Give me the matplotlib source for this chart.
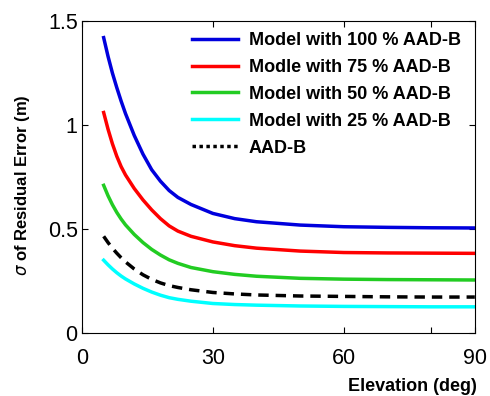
import numpy as np
from matplotlib import pyplot as plt
from matplotlib.lines import Line2D

plt.rcParams['font.family'] = ['Liberation Sans', 'DejaVu Sans']

# elevation angle (deg) and sigma of residual error (m)
elev = [5, 6, 7, 8, 9, 10, 12, 14, 16, 18, 20, 22, 25, 30, 35, 40, 50, 60, 70, 80, 90]
m100 = [1.42, 1.33, 1.25, 1.18, 1.115, 1.055, 0.95, 0.86, 0.785, 0.73, 0.685, 0.652, 0.618, 0.575, 0.55, 0.535, 0.519, 0.511, 0.508, 0.506, 0.505]
m75 = [1.06, 0.98, 0.91, 0.85, 0.80, 0.76, 0.695, 0.64, 0.592, 0.55, 0.515, 0.49, 0.465, 0.438, 0.42, 0.408, 0.394, 0.387, 0.385, 0.384, 0.383]
m50 = [0.71, 0.66, 0.617, 0.58, 0.548, 0.52, 0.474, 0.435, 0.402, 0.375, 0.352, 0.335, 0.315, 0.295, 0.282, 0.273, 0.263, 0.259, 0.257, 0.256, 0.255]
m25 = [0.35, 0.328, 0.308, 0.29, 0.274, 0.26, 0.236, 0.215, 0.197, 0.182, 0.17, 0.162, 0.153, 0.142, 0.137, 0.134, 0.13, 0.128, 0.127, 0.126, 0.126]
aad = [0.465, 0.435, 0.408, 0.384, 0.362, 0.342, 0.308, 0.28, 0.258, 0.241, 0.228, 0.219, 0.208, 0.195, 0.188, 0.183, 0.178, 0.176, 0.174, 0.173, 0.173]

labels = ['Model with 100 % AAD-B', 'Modle with 75 % AAD-B',
          'Model with 50 % AAD-B', 'Model with 25 % AAD-B', 'AAD-B']
colors = ['#0000dd', '#ff0000', '#22cc22', '#00ffff', 'black']

fig = plt.figure(figsize=(4.9, 3.96), dpi=100)
ax = fig.add_axes([0.167, 0.159, 0.802, 0.788])

for y, c in zip([m100, m75, m50, m25], colors[:4]):
    ax.plot(elev, y, color=c, lw=2.5)
ax.plot(elev, aad, color='black', lw=2.5, ls=(0, (3, 2)))

ax.set_xlim(0, 90)
ax.set_ylim(0, 1.5)
ax.set_xticks([0, 30, 60, 80, 90])
ax.set_xticklabels(['0', '30', '60', '', '90'])
ax.set_yticks([0, 0.5, 1, 1.5])
ax.set_yticklabels(['0', '0.5', '1', '1.5'])
ax.tick_params(direction='in', top=True, right=True, labelsize=15.5, length=4)
ax.tick_params(axis='x', pad=11)
ax.tick_params(axis='y', pad=3)
for s in ax.spines.values():
    s.set_linewidth(0.8)

ax.set_xlabel('Elevation (deg)', fontsize=13, fontweight='bold', ha='right', va='baseline')
ax.xaxis.set_label_coords(1.005, -0.186)
ax.set_ylabel('$\\sigma$ of Residual Error (m)', fontsize=12, fontweight='bold', va='center')
ax.yaxis.set_label_coords(-0.152, 0.475)

handles = [Line2D([], [], color=c, lw=2.5) for c in colors[:4]]
handles.append(Line2D([], [], color='black', lw=2.5, ls=(0, (1, 1))))
ax.legend(handles, labels, loc='upper left', bbox_to_anchor=(0.28, 0.965),
          frameon=False, prop={'weight': 'bold', 'size': 13}, handlelength=2.55,
          handletextpad=0.6, labelspacing=0.55, borderaxespad=0, borderpad=0)

plt.savefig('out.png', dpi=100)
